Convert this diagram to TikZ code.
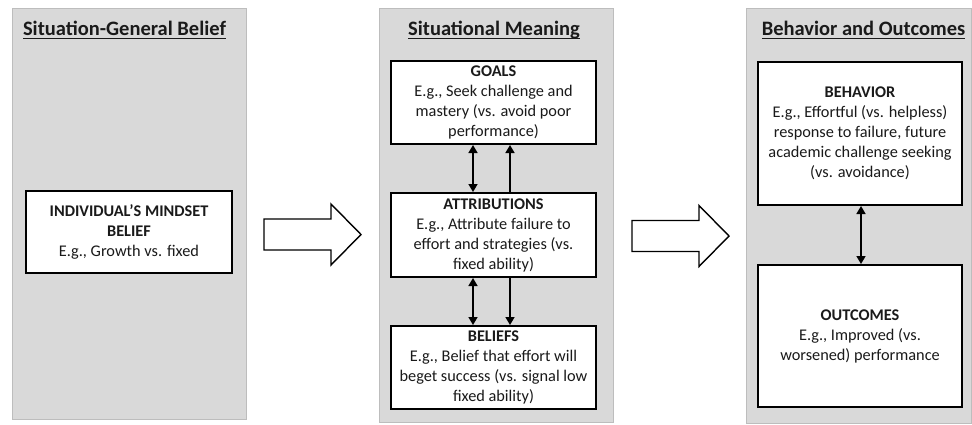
\documentclass[tikz,border=0pt]{standalone}
\usepackage{fontspec}
\setmainfont{Carlito}
\usetikzlibrary{arrows.meta}

\definecolor{panelgray}{HTML}{D9D9D9}
\definecolor{panelline}{HTML}{BDBDBD}
\definecolor{inkgray}{HTML}{1A1A1A}

\newcommand\titleline[1]{\setbox0\hbox{#1}\rlap{\rule[-4pt]{\wd0}{1.5pt}}\box0}

\tikzset{
  panel/.style={draw=panelline, fill=panelgray, line width=1pt},
  paneltitle/.style={font=\fontsize{20.5}{24}\selectfont\bfseries, text=inkgray, inner sep=0pt, anchor=base},
  stagebox/.style={draw=black, fill=white, line width=2pt, align=center, text=inkgray,
    font=\fontsize{16.3}{20}\selectfont, inner sep=0pt},
  link/.style={line width=1.6pt, {Triangle[length=8pt,width=9pt]}-{Triangle[length=8pt,width=9pt]}},
  onelink/.style={line width=1.6pt, -{Triangle[length=8pt,width=9pt]}},
  bigarrow/.style={draw=black, fill=white, line width=1.4pt, line join=miter}
}

\begin{document}
\begin{tikzpicture}[x=1pt, y=-1pt]
    \useasboundingbox (0,0) rectangle (972,424);

    % the three panels
    \node[panel, minimum width=234pt, minimum height=411pt] (general) at (129,213.5) {};
    \node[panel, minimum width=234pt, minimum height=414pt] (meaning) at (496,215) {};
    \node[panel, minimum width=225pt, minimum height=415pt] (outcome) at (858.5,215.5) {};

    \node[paneltitle] (generalT) at (124.5,35) {\titleline{Situation-General Belief}};
    \node[paneltitle] (meaningT) at (494,35) {\titleline{Situational Meaning}};
    \node[paneltitle] (outcomeT) at (863.5,35) {\titleline{Behavior and Outcomes}};

    % boxes
    \node[stagebox, minimum width=206pt, minimum height=82pt] (mindset) at (129,232)
        {\textbf{INDIVIDUAL'S MINDSET}\\\textbf{BELIEF}\\E.g., Growth vs. fixed};

    \node[stagebox, minimum width=205pt, minimum height=83pt] (goals) at (493.5,102.5)
        {\textbf{GOALS}\\E.g., Seek challenge and\\mastery (vs. avoid poor\\performance)};
    \node[stagebox, minimum width=205pt, minimum height=84pt] (attrib) at (493.5,235)
        {\textbf{ATTRIBUTIONS}\\E.g., Attribute failure to\\effort and strategies (vs.\\fixed ability)};
    \node[stagebox, minimum width=205pt, minimum height=83pt] (beliefs) at (493.5,367.5)
        {\textbf{BELIEFS}\\E.g., Belief that effort will\\beget success (vs. signal low\\fixed ability)};

    \node[stagebox, minimum width=204pt, minimum height=143pt] (behavior) at (860,133.5)
        {\textbf{BEHAVIOR}\\E.g., Effortful (vs. helpless)\\response to failure, future\\academic challenge seeking\\(vs. avoidance)};
    \node[stagebox, minimum width=204pt, minimum height=142pt] (outcomes) at (860,336)
        {\textbf{OUTCOMES}\\E.g., Improved (vs.\\worsened) performance};

    % links between boxes
    \draw[link] ([xshift=-20.5pt]goals.south) -- ([xshift=-20.5pt]attrib.north);
    \draw[onelink] ([xshift=16.5pt]attrib.north) -- ([xshift=16.5pt]goals.south);
    \draw[link] ([xshift=-20.5pt]attrib.south) -- ([xshift=-20.5pt]beliefs.north);
    \draw[onelink] ([xshift=16.5pt]attrib.south) -- ([xshift=16.5pt]beliefs.north);
    \draw[link] ([xshift=1pt]behavior.south) -- ([xshift=1pt]outcomes.north);

    % block arrows between panels
    \coordinate (A) at (264,234.5);
    \coordinate (B) at (632,236);
    \foreach \p in {A,B}
        \draw[bigarrow] (\p) ++(0,-15.5) -- ++(67,0) -- ++(0,-15) -- ++(30,30.5)
            -- ++(-30,30.5) -- ++(0,-15) -- ++(-67,0) -- cycle;
\end{tikzpicture}
\end{document}
